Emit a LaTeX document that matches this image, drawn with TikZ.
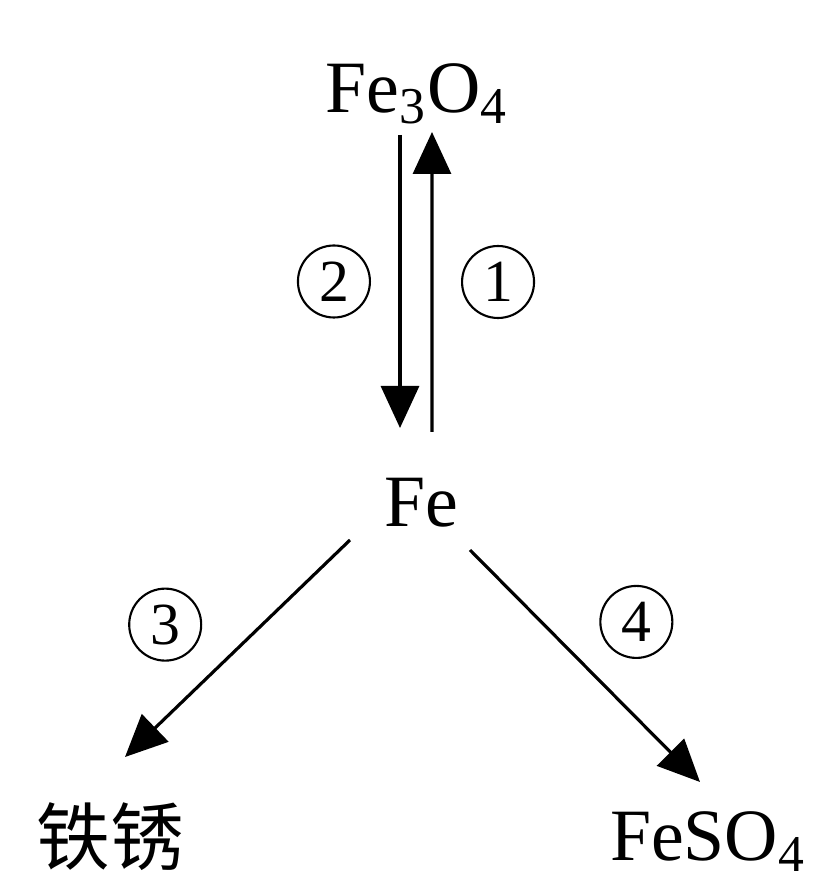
\documentclass[tikz,border=0pt]{standalone}
\usepackage{fontspec}
\setmainfont{Liberation Serif}
\newfontfamily\cjk{Noto Sans CJK SC}
\usetikzlibrary{arrows.meta,positioning,calc}
\newcommand{\chemsub}[1]{\textsubscript{#1}}

\begin{document}
\begin{tikzpicture}[
    chem/.style={font=\fontsize{21}{24}\selectfont,inner sep=0pt,anchor=base},
    rx/.style={line width=0.9pt,-{Triangle[length=0.42cm,width=0.38cm]}},
    numc/.style={draw,circle,line width=0.6pt,minimum size=0.72cm,
                 inner sep=0pt,font=\fontsize{17}{17}\selectfont}]
  \useasboundingbox (0,0) rectangle (8.23,8.8);
  \node[chem] (fe3o4) at (4.17,7.67) {Fe\chemsub{3}O\chemsub{4}};
  \node[chem] (fe) at (4.21,3.53) {Fe};
  \node[chem] (rust) at (1.10,0.15) {\cjk 铁锈};
  \node[chem] (feso4) at (7.08,0.19) {FeSO\chemsub{4}};

  \draw[rx] ($(fe.base)+(0.11,0.95)$) --
    node[numc,right=0.29cm] (r1) {1} ($(fe3o4.base)+(0.15,-0.19)$);
  \draw[rx] ($(fe3o4.base)+(-0.17,-0.22)$) --
    node[numc,left=0.29cm] (r2) {2} ($(fe.base)+(-0.21,0.99)$);
  \draw[rx] ($(fe.base)+(-0.71,-0.13)$) --
    node[numc,pos=0.39,left=0.6cm] (r3) {3} ($(rust.base)+(0.15,1.08)$);
  \draw[rx] ($(fe.base)+(0.49,-0.23)$) --
    node[numc,pos=0.31,right=0.58cm] (r4) {4} ($(feso4.base)+(-0.08,0.79)$);
\end{tikzpicture}
\end{document}
